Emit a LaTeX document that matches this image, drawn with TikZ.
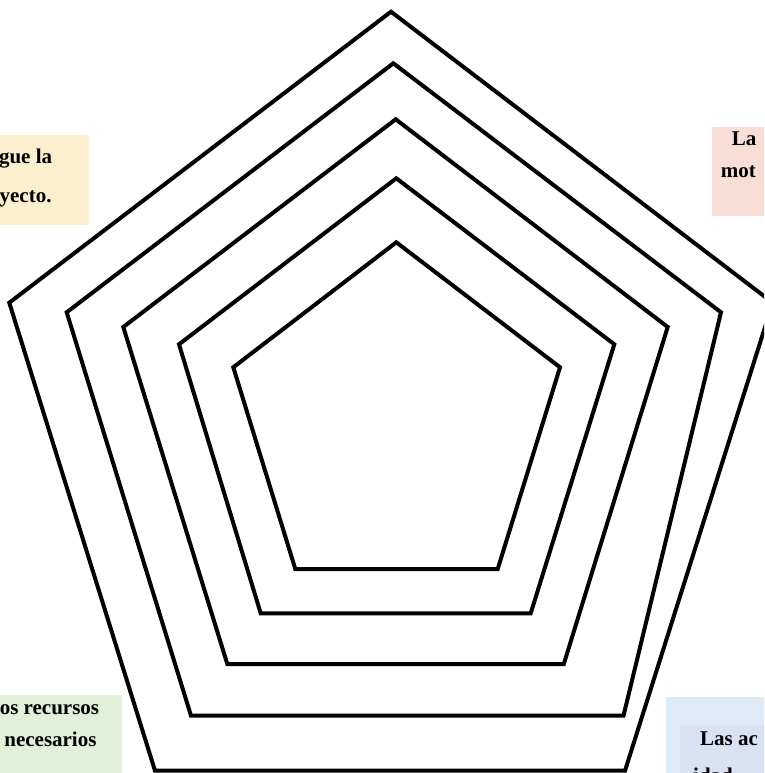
\documentclass[tikz,border=0pt]{standalone}
\usepackage{fontspec}
\setmainfont{Liberation Serif}
\usepackage{xcolor}
\definecolor{boxyellow}{HTML}{FBEFCD}
\definecolor{boxpink}{HTML}{F8DED5}
\definecolor{boxgreen}{HTML}{E2EFD9}
\definecolor{boxblue}{HTML}{DDEBF6}
\definecolor{boxlav}{HTML}{D9E2F3}

\begin{document}
\begin{tikzpicture}[x=1pt, y=-1pt, penta/.style={draw=black, line width=4pt}, lbl/.style={font=\fontsize{21}{25}\selectfont\bfseries, inner sep=0pt}]
\useasboundingbox (0,0) rectangle (764,773);
\clip (0,0) rectangle (764,773);
\fill[boxyellow] (-5,135) rectangle (89.3,225);
\fill[boxpink] (711.7,127.3) rectangle (770,216);
\fill[boxgreen] (-5,695) rectangle (121.7,780);
\fill[boxblue] (666,697) rectangle (770,780);
\fill[boxlav] (680,725) rectangle (770,780);
\node[lbl, anchor=base east] (tla) at (52.3,163) {gue la};
\node[lbl, anchor=base east] (tlb) at (51.7,202) {yecto.};
\node[lbl, anchor=base west] (tra) at (731.7,146) {La};
\node[lbl, anchor=base west] (trb) at (720.7,177.7) {mot};
\node[lbl, anchor=base east] (bla) at (99.3,714.5) {os recursos};
\node[lbl, anchor=base east] (blb) at (96.7,746) {necesarios};
\node[lbl, anchor=base west] (bra) at (700,745) {Las ac};
\node[lbl, anchor=base west] (brb) at (693,782) {idad};
\draw[penta] (391,11.7) -- (772.7,302.7) -- (625,770.7) -- (155,770.7) -- (9.3,302.7) -- cycle;
\draw[penta] (393.3,63.3) -- (721,312.3) -- (623.5,715.7) -- (191,715.7) -- (66.7,312.3) -- cycle;
\draw[penta] (395.7,119.3) -- (667.7,327) -- (563.8,664) -- (227.3,664) -- (123.3,327) -- cycle;
\draw[penta] (396.3,178.3) -- (614.3,344.3) -- (530.7,613.3) -- (260.7,613.3) -- (179,344.3) -- cycle;
\draw[penta] (396.3,242.3) -- (560,367.3) -- (497.7,569) -- (295.3,569) -- (233.3,367.3) -- cycle;
\end{tikzpicture}
\end{document}
